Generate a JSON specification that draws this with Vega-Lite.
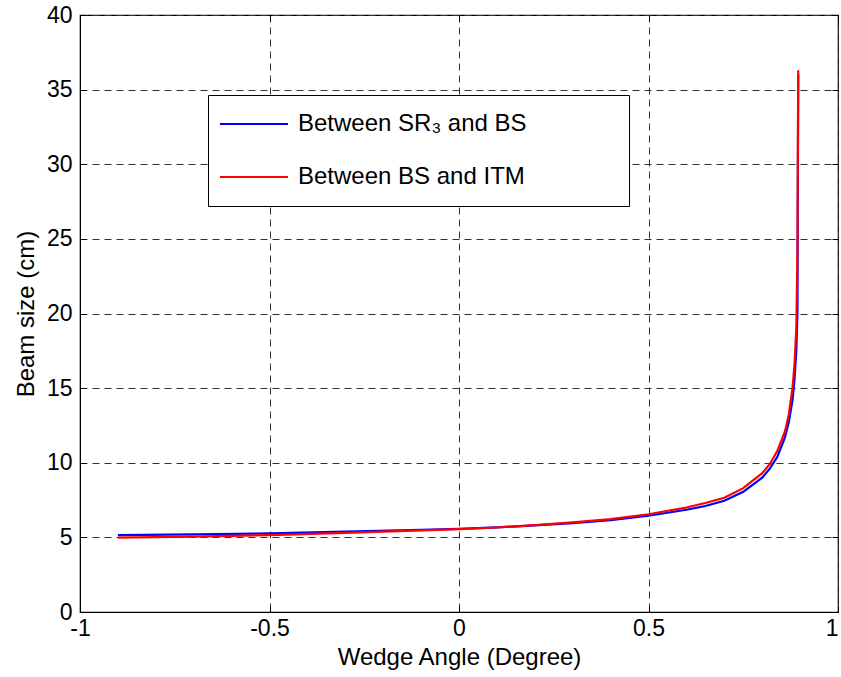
{
  "$schema": "https://vega.github.io/schema/vega-lite/v6.json",
  "width": 758,
  "height": 597,
  "autosize": {"type": "none"},
  "padding": {"left": 80, "top": 15, "right": 3, "bottom": 65},
  "background": "white",
  "config": {
    "font": "Liberation Sans",
    "view": {"stroke": "black", "strokeWidth": 1.2},
    "axis": {
      "domainColor": "black",
      "tickColor": "black",
      "labelColor": "black",
      "titleColor": "black",
      "labelFont": "Liberation Sans",
      "titleFont": "Liberation Sans",
      "labelFontSize": 23,
      "titleFontSize": 24,
      "titleFontWeight": "normal",
      "labelFlush": false,
      "gridColor": "#333333",
      "gridDash": [7, 5],
      "gridOpacity": 1,
      "gridWidth": 1,
      "tickSize": -6,
      "tickWidth": 1
    }
  },
  "data": {
    "values": [
      {"angle": -0.9, "size": 5.15, "series": "Between SR₃ and BS"},
      {"angle": -0.7, "size": 5.2, "series": "Between SR₃ and BS"},
      {"angle": -0.5, "size": 5.27, "series": "Between SR₃ and BS"},
      {"angle": -0.3, "size": 5.38, "series": "Between SR₃ and BS"},
      {"angle": -0.1, "size": 5.5, "series": "Between SR₃ and BS"},
      {"angle": 0.0, "size": 5.57, "series": "Between SR₃ and BS"},
      {"angle": 0.1, "size": 5.67, "series": "Between SR₃ and BS"},
      {"angle": 0.2, "size": 5.8, "series": "Between SR₃ and BS"},
      {"angle": 0.3, "size": 5.95, "series": "Between SR₃ and BS"},
      {"angle": 0.4, "size": 6.15, "series": "Between SR₃ and BS"},
      {"angle": 0.5, "size": 6.45, "series": "Between SR₃ and BS"},
      {"angle": 0.6, "size": 6.85, "series": "Between SR₃ and BS"},
      {"angle": 0.65, "size": 7.1, "series": "Between SR₃ and BS"},
      {"angle": 0.7, "size": 7.45, "series": "Between SR₃ and BS"},
      {"angle": 0.75, "size": 8.05, "series": "Between SR₃ and BS"},
      {"angle": 0.8, "size": 9.0, "series": "Between SR₃ and BS"},
      {"angle": 0.82, "size": 9.6, "series": "Between SR₃ and BS"},
      {"angle": 0.84, "size": 10.4, "series": "Between SR₃ and BS"},
      {"angle": 0.86, "size": 11.7, "series": "Between SR₃ and BS"},
      {"angle": 0.87, "size": 12.7, "series": "Between SR₃ and BS"},
      {"angle": 0.88, "size": 14.2, "series": "Between SR₃ and BS"},
      {"angle": 0.885, "size": 15.5, "series": "Between SR₃ and BS"},
      {"angle": 0.89, "size": 17.5, "series": "Between SR₃ and BS"},
      {"angle": 0.893, "size": 20.0, "series": "Between SR₃ and BS"},
      {"angle": 0.895, "size": 36.0, "series": "Between SR₃ and BS"},
      {"angle": -0.9, "size": 4.98, "series": "Between BS and ITM"},
      {"angle": -0.7, "size": 5.05, "series": "Between BS and ITM"},
      {"angle": -0.5, "size": 5.15, "series": "Between BS and ITM"},
      {"angle": -0.3, "size": 5.3, "series": "Between BS and ITM"},
      {"angle": -0.1, "size": 5.47, "series": "Between BS and ITM"},
      {"angle": 0.0, "size": 5.55, "series": "Between BS and ITM"},
      {"angle": 0.1, "size": 5.66, "series": "Between BS and ITM"},
      {"angle": 0.2, "size": 5.82, "series": "Between BS and ITM"},
      {"angle": 0.3, "size": 6.0, "series": "Between BS and ITM"},
      {"angle": 0.4, "size": 6.22, "series": "Between BS and ITM"},
      {"angle": 0.5, "size": 6.55, "series": "Between BS and ITM"},
      {"angle": 0.6, "size": 7.0, "series": "Between BS and ITM"},
      {"angle": 0.65, "size": 7.3, "series": "Between BS and ITM"},
      {"angle": 0.7, "size": 7.65, "series": "Between BS and ITM"},
      {"angle": 0.75, "size": 8.3, "series": "Between BS and ITM"},
      {"angle": 0.8, "size": 9.3, "series": "Between BS and ITM"},
      {"angle": 0.82, "size": 9.9, "series": "Between BS and ITM"},
      {"angle": 0.84, "size": 10.8, "series": "Between BS and ITM"},
      {"angle": 0.86, "size": 12.1, "series": "Between BS and ITM"},
      {"angle": 0.87, "size": 13.2, "series": "Between BS and ITM"},
      {"angle": 0.88, "size": 15.0, "series": "Between BS and ITM"},
      {"angle": 0.885, "size": 16.5, "series": "Between BS and ITM"},
      {"angle": 0.89, "size": 19.0, "series": "Between BS and ITM"},
      {"angle": 0.893, "size": 24.0, "series": "Between BS and ITM"},
      {"angle": 0.895, "size": 36.3, "series": "Between BS and ITM"}
    ]
  },
  "layer": [
    {
      "mark": {"type": "line", "strokeWidth": 2.2, "interpolate": "linear"},
      "encoding": {
        "x": {
          "field": "angle",
          "type": "quantitative",
          "scale": {"domain": [-1, 1], "nice": false, "zero": false},
          "axis": {"values": [-1, -0.5, 0, 0.5, 1], "labelExpr": "'' + datum.value", "labelAlign": {"expr": "datum.value == 1 ? 'right' : 'center'"}, "labelPadding": 11, "title": "Wedge Angle (Degree)", "titlePadding": 5}
        },
        "y": {
          "field": "size",
          "type": "quantitative",
          "scale": {"domain": [0, 40], "nice": false},
          "axis": {"values": [0, 5, 10, 15, 20, 25, 30, 35, 40], "labelPadding": 14, "title": "Beam size (cm)", "titlePadding": 8}
        },
        "color": {
          "field": "series",
          "type": "nominal",
          "scale": {"domain": ["Between SR₃ and BS", "Between BS and ITM"], "range": ["#0000ff", "#ff0000"]},
          "legend": {
            "title": null,
            "orient": "none",
            "legendX": 128,
            "legendY": 80,
            "symbolType": "M-4,0H4",
            "symbolSize": 290,
            "symbolStrokeWidth": 2.2,
            "symbolOffset": 17,
            "labelFontSize": 24,
            "labelFont": "Liberation Sans",
            "labelColor": "black",
            "labelOffset": 32,
            "labelLimit": 700,
            "labelExpr": "datum.label + '\u00a0\u00a0\u2800\u2800\u2800\u2800'",
            "rowPadding": 29,
            "padding": 17,
            "strokeColor": "black",
            "fillColor": "white"
          }
        },
        "order": {"field": "angle", "type": "quantitative"}
      }
    },
    {
      "mark": {"type": "point", "opacity": 0},
      "encoding": {
        "x": {
          "field": "angle",
          "type": "quantitative",
          "axis": {"orient": "top", "values": [-1, -0.5, 0, 0.5, 1], "labels": false, "grid": false, "domain": false, "title": null}
        },
        "y": {
          "field": "size",
          "type": "quantitative",
          "axis": {"orient": "right", "values": [0, 5, 10, 15, 20, 25, 30, 35, 40], "labels": false, "grid": false, "domain": false, "title": null}
        }
      }
    }
  ],
  "resolve": {"axis": {"x": "independent", "y": "independent"}}
}
